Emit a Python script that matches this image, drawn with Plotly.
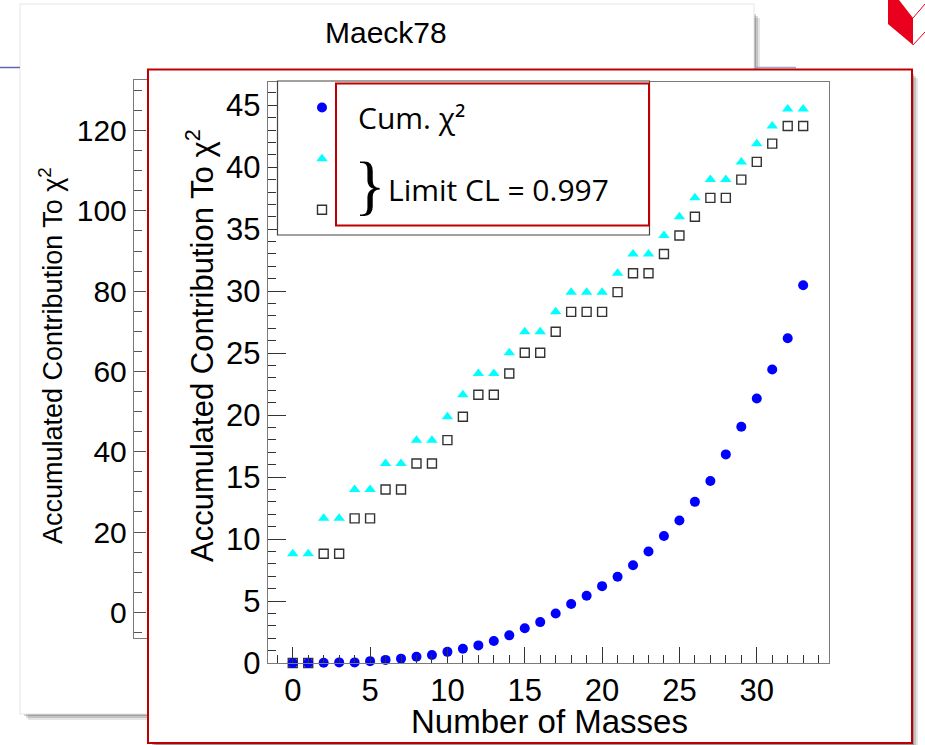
import plotly.graph_objects as go

W, H = 925, 745
def X(px): return px / W
def Y(py): return 1 - py / H

# ---------------- data ----------------
n_masses = list(range(34))
cum_chi2 = [0, 0, 0.02, 0.05, 0.05, 0.15, 0.25, 0.35, 0.5, 0.65, 0.9, 1.15, 1.42, 1.77,
            2.23, 2.8, 3.3, 4.0, 4.76, 5.43, 6.2, 6.96, 7.88, 9.0, 10.24, 11.5, 13.0,
            14.68, 16.83, 19.06, 21.34, 23.68, 26.2, 30.48]
limit_upper = [8.81, 8.81, 11.67, 11.67, 14.0, 14.0, 16.1, 16.1, 17.98, 17.98, 19.87,
               21.64, 23.36, 23.36, 25.03, 26.72, 26.72, 28.33, 29.92, 29.92, 29.92,
               31.45, 33.0, 33.0, 34.49, 36.0, 37.53, 39.0, 39.0, 40.43, 41.9, 43.33,
               44.7, 44.7]
limit_lower = [0, 0, 8.81, 8.81, 11.67, 11.67, 14.0, 14.0, 16.1, 16.1, 17.98, 19.87,
               21.64, 21.64, 23.36, 25.03, 25.03, 26.72, 28.33, 28.33, 28.33, 29.92,
               31.45, 31.45, 33.0, 34.49, 36.0, 37.53, 37.53, 39.0, 40.43, 41.9,
               43.33, 43.33]
bg_title = "Maeck78"
y_title = "Accumulated Contribution To χ<sup>2</sup>"
x_title = "Number of Masses"
box_line1 = "Cum. χ²"
box_line2 = "Limit CL = 0.997"

fig = go.Figure()

fig.add_trace(go.Scatter(x=n_masses, y=limit_upper, mode="markers", name=" ",
                         marker=dict(symbol="triangle-up", size=10, color="#00FFFF"),
                         cliponaxis=False, legendrank=2))
fig.add_trace(go.Scatter(x=n_masses, y=limit_lower, mode="markers", name="  ",
                         marker=dict(symbol="square-open", size=9, color="#333333",
                                     line=dict(width=1.4, color="#333333")),
                         cliponaxis=False, legendrank=3))
fig.add_trace(go.Scatter(x=n_masses, y=cum_chi2, mode="markers", name="   ",
                         marker=dict(symbol="circle", size=10, color="#0000FF"),
                         cliponaxis=False, legendrank=1))
# background chart's axis (only its left strip is visible)
fig.add_trace(go.Scatter(x=[], y=[], xaxis="x2", yaxis="y2", showlegend=False))

shapes = []
# background panel shadow + panel
for i, op in enumerate([0.10, 0.14, 0.18]):
    d = 6 - 2 * i
    shapes.append(dict(type="rect", xref="paper", yref="paper", layer="below",
                       x0=X(22 + d), x1=X(754 + d), y0=Y(12 + d), y1=Y(714 + d),
                       fillcolor=f"rgba(0,0,0,{op})", line=dict(width=0)))
shapes.append(dict(type="rect", xref="paper", yref="paper", layer="below",
                   x0=X(20), x1=X(754), y0=Y(4), y1=Y(714),
                   fillcolor="white", line=dict(color="#e6e6e6", width=1)))
# slide lines
shapes.append(dict(type="line", xref="paper", yref="paper", layer="below",
                   x0=X(0), x1=X(20), y0=Y(67.5), y1=Y(67.5),
                   line=dict(color="#5a68a8", width=1.5)))
shapes.append(dict(type="line", xref="paper", yref="paper", layer="below",
                   x0=X(756), x1=X(796), y0=Y(67.5), y1=Y(67.5),
                   line=dict(color="#a0a8c4", width=1.5)))
# logo piece top right
shapes.append(dict(type="path", xref="paper", yref="paper", layer="below",
                   path=f"M{X(888)},{Y(0)} L{X(888)},{Y(24)} L{X(913)},{Y(45)} "
                        f"L{X(913)},{Y(18)} L{X(899)},{Y(0)} Z",
                   fillcolor="#e8001c", line=dict(width=0)))
shapes.append(dict(type="line", xref="paper", yref="paper", layer="below",
                   x0=X(913), x1=X(925), y0=Y(45), y1=Y(32),
                   line=dict(color="#e8001c", width=1)))
shapes.append(dict(type="line", xref="paper", yref="paper", layer="below",
                   x0=X(913), x1=X(925), y0=Y(18), y1=Y(4),
                   line=dict(color="#e8001c", width=1)))
# foreground panel shadow + panel
for i, op in enumerate([0.10, 0.15, 0.22]):
    d = 6 - 2 * i
    shapes.append(dict(type="rect", xref="paper", yref="paper", layer="below",
                       x0=X(150 + d), x1=X(912 + d), y0=Y(72 + d), y1=Y(743 + d),
                       fillcolor=f"rgba(0,0,0,{op})", line=dict(width=0)))
shapes.append(dict(type="rect", xref="paper", yref="paper", layer="below",
                   x0=X(148), x1=X(912), y0=Y(69.5), y1=Y(743),
                   fillcolor="white", line=dict(color="#c00000", width=2)))
# legend frame (covers the axis ticks)
shapes.append(dict(type="rect", xref="paper", yref="paper", layer="above",
                   x0=X(277.5), x1=X(649.5), y0=Y(81), y1=Y(235),
                   fillcolor="white", line=dict(color="#444444", width=1.2)))
# overlay text box
shapes.append(dict(type="rect", xref="paper", yref="paper", layer="above",
                   x0=X(336), x1=X(649), y0=Y(83.5), y1=Y(225.5),
                   fillcolor="white", line=dict(color="#c00000", width=2)))

annotations = [
    dict(text=bg_title, x=X(386), y=Y(33), xref="paper", yref="paper",
         showarrow=False, font=dict(family="Liberation Sans, Arial", size=30, color="black"),
         xanchor="center", yanchor="middle"),
    dict(text=y_title, x=X(51), y=Y(356), xref="paper", yref="paper", textangle=-90,
         showarrow=False, font=dict(family="Liberation Sans, Arial", size=27, color="black"),
         xanchor="center", yanchor="middle"),
    dict(text=y_title, x=X(200), y=Y(346), xref="paper", yref="paper", textangle=-90,
         showarrow=False, font=dict(family="Liberation Sans, Arial", size=31, color="black"),
         xanchor="center", yanchor="middle"),
    dict(text=x_title, x=X(549), y=Y(721), xref="paper", yref="paper",
         showarrow=False, font=dict(family="Liberation Sans, Arial", size=33, color="black"),
         xanchor="center", yanchor="middle"),
    dict(text=box_line1, x=X(356), y=Y(117), xref="paper", yref="paper",
         showarrow=False, font=dict(family="Open Sans", size=30, color="black"),
         xanchor="left", yanchor="middle"),
    dict(text="}", x=X(370), y=Y(184), xref="paper", yref="paper",
         showarrow=False, font=dict(family="Liberation Serif", size=66, color="black"),
         xanchor="center", yanchor="middle"),
    dict(text=box_line2, x=X(386), y=Y(189), xref="paper", yref="paper",
         showarrow=False, font=dict(family="Open Sans", size=30, color="black"),
         xanchor="left", yanchor="middle"),
]

tickfont = dict(family="Liberation Sans, Arial", size=31, color="black")

fig.update_layout(
    width=W, height=H, autosize=False, margin=dict(l=0, r=0, t=0, b=0, autoexpand=False),
    paper_bgcolor="white", plot_bgcolor="rgba(0,0,0,0)",
    shapes=shapes, annotations=annotations,
    showlegend=True,
    legend=dict(x=X(302), y=Y(77), xanchor="left", yanchor="top",
                bgcolor="rgba(0,0,0,0)", borderwidth=0,
                font=dict(size=37, family="Liberation Sans"), itemsizing="trace",
                traceorder="normal"),
    xaxis=dict(domain=[X(268), X(829)], range=[-1.6, 34.67], anchor="y", automargin=False,
               showgrid=False, zeroline=False, showline=True, mirror=True,
               linecolor="#7a7a7a", linewidth=1.4,
               ticks="inside", ticklen=16, tickwidth=1.2, tickcolor="#333333",
               dtick=5, tick0=0, tickfont=tickfont,
               minor=dict(ticks="inside", ticklen=8, dtick=1, tick0=0,
                          tickcolor="#333333", tickwidth=1.2, showgrid=False)),
    yaxis=dict(domain=[Y(663), Y(81.7)], range=[0, 46.9], anchor="x", automargin=False,
               showgrid=False, zeroline=False, showline=True, mirror=True,
               linecolor="#7a7a7a", linewidth=1.4,
               ticks="inside", ticklen=18, tickwidth=1.2, tickcolor="#333333",
               dtick=5, tick0=0, tickfont=tickfont,
               minor=dict(ticks="inside", ticklen=8, dtick=1, tick0=0,
                          tickcolor="#333333", tickwidth=1.2, showgrid=False)),
    xaxis2=dict(domain=[X(134), X(147)], range=[0, 1], anchor="y2", automargin=False,
                showgrid=False, zeroline=False, showline=True, mirror=True,
                linecolor="#7a7a7a", linewidth=1.2, showticklabels=False, ticks=""),
    yaxis2=dict(domain=[Y(638), Y(80)], range=[-6.4, 132.6], anchor="x2", automargin=False,
                showgrid=False, zeroline=False, showline=True,
                linecolor="#7a7a7a", linewidth=1.4,
                ticks="inside", ticklen=12, tickwidth=1.2, tickcolor="#555555",
                dtick=20, tick0=0, tickfont=dict(family="Liberation Sans, Arial", size=30, color="black"),
                minor=dict(ticks="inside", ticklen=8, dtick=5, tick0=0,
                           tickcolor="#555555", tickwidth=1.2, showgrid=False)),
)

fig.write_html("out.html", config={"responsive": False})
